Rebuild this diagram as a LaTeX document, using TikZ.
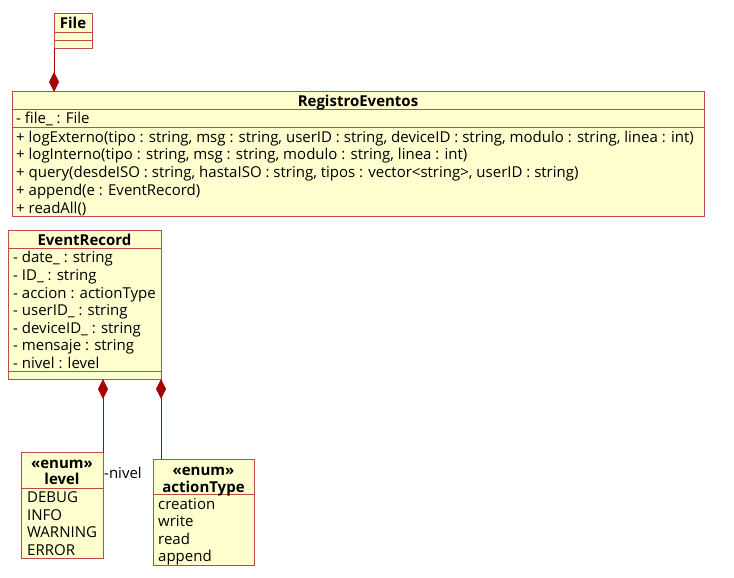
\documentclass[tikz,border=0pt]{standalone}
\usepackage{fontspec}
\setmainfont{Open Sans}
\usetikzlibrary{arrows.meta}
\definecolor{umlfill}{RGB}{254,254,206}
\definecolor{umlborder}{RGB}{185,75,75}
\definecolor{umlline}{RGB}{168,0,0}
\tikzset{every picture/.style = {x=1pt, y=-1pt}}
\tikzset{box/.style = {draw=umlborder, fill=umlfill, line width=1pt, outer sep=0, inner sep=0, anchor=north west}}
\tikzset{sep/.style = {draw=umlborder, line width=1pt}}
\tikzset{title/.style = {font=\fontsize{15}{17}\selectfont\bfseries, inner sep=0, text height=14, text depth=3}}
\tikzset{item/.style = {font=\fontsize{15}{17}\selectfont, inner sep=0, anchor=west, text height=14, text depth=3}}
\tikzset{comp/.style = {draw=umlline, line width=1pt, -{Diamond[width=10pt, length=20pt, fill=umlline]}}}

\begin{document}
\begin{tikzpicture}
  \useasboundingbox (0,0) rectangle (734,578);
  % File
  \node[box, minimum width=38, minimum height=35] (file) at (54,14) {};
  \draw[sep] (file.west |- 0,32.5) -- (file.east |- 0,32.5);
  \draw[sep] (file.west |- 0,40.5) -- (file.east |- 0,40.5);
  \node[title] (fileT) at (73,23) {File};
  % RegistroEventos
  \node[box, minimum width=692, minimum height=124] (reg) at (12,92) {};
  \draw[sep] (reg.west |- 0,109) -- (reg.east |- 0,109);
  \draw[sep] (reg.west |- 0,127) -- (reg.east |- 0,127);
  \node[title] (regT) at (358,101) {RegistroEventos};
  \node[item] (regA) at (16,118) {- file\_ : File};
  \node[item] (regM1) at (16,136.5) {+ logExterno(tipo : string, msg : string, userID : string, deviceID : string, modulo : string, linea : int)};
  \node[item] (regM2) at (16,154.3) {+ logInterno(tipo : string, msg : string, modulo : string, linea : int)};
  \node[item] (regM3) at (16,172.1) {+ query(desdeISO : string, hastaISO : string, tipos : vector<string>, userID : string)};
  \node[item] (regM4) at (16,189.9) {+ append(e : EventRecord)};
  \node[item] (regM5) at (16,207.7) {+ readAll()};
  % EventRecord
  \node[box, minimum width=153, minimum height=149] (evt) at (8,230) {};
  \draw[sep] (evt.west |- 0,248) -- (evt.east |- 0,248);
  \draw[sep] (evt.west |- 0,371) -- (evt.east |- 0,371);
  \node[title] (evtT) at (84.5,240) {EventRecord};
  \node[item] (evtA1) at (13,257.3) {- date\_ : string};
  \node[item] (evtA2) at (13,275) {- ID\_ : string};
  \node[item] (evtA3) at (13,292.6) {- accion : actionType};
  \node[item] (evtA4) at (13,310.2) {- userID\_ : string};
  \node[item] (evtA5) at (13,327.8) {- deviceID\_ : string};
  \node[item] (evtA6) at (13,345.4) {- mensaje : string};
  \node[item] (evtA7) at (13,363) {- nivel : level};
  % level
  \node[box, minimum width=82, minimum height=106] (lvl) at (21,452) {};
  \draw[sep] (lvl.west |- 0,488) -- (lvl.east |- 0,488);
  \node[title] (lvlS) at (62,463) {«enum»};
  \node[title] (lvlT) at (62,479) {level};
  \node[item] (lvl1) at (27,497) {DEBUG};
  \node[item] (lvl2) at (27,514.5) {INFO};
  \node[item] (lvl3) at (27,532) {WARNING};
  \node[item] (lvl4) at (27,549.5) {ERROR};
  % actionType
  \node[box, minimum width=101, minimum height=106] (act) at (153,459) {};
  \draw[sep] (act.west |- 0,494) -- (act.east |- 0,494);
  \node[title] (actS) at (203.5,470) {«enum»};
  \node[title] (actT) at (203.5,487) {actionType};
  \node[item] (act1) at (158,503.5) {creation};
  \node[item] (act2) at (158,521) {write};
  \node[item] (act3) at (158,538.5) {read};
  \node[item] (act4) at (158,556) {append};
  % composiciones
  \draw[comp] (file.south west) -- (file.south west |- reg.north);
  \draw[comp] (lvl.north east) -- (lvl.north east |- evt.south);
  \draw[comp] (act.north -| evt.south east) -- (evt.south east);
  \node[item] (nivel) at (104,473) {-nivel};
\end{tikzpicture}
\end{document}
